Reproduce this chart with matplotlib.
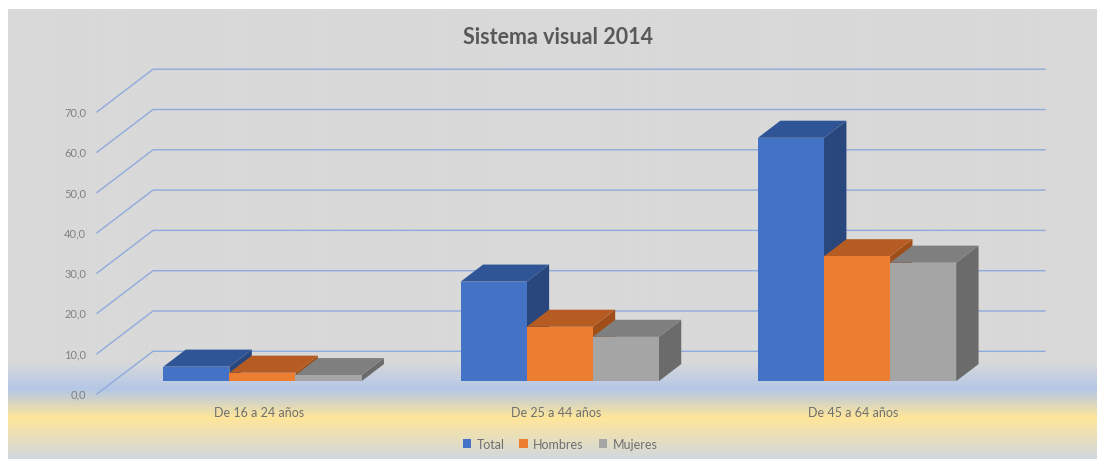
import numpy as np
import matplotlib.pyplot as plt
from matplotlib.patches import Polygon, Patch

plt.rcParams['font.family'] = ['Lato', 'DejaVu Sans']

categorias = ["De 16 a 24 años", "De 25 a 44 años", "De 45 a 64 años"]
series = ["Total", "Hombres", "Mujeres"]
total = [3.6, 24.7, 60.4]
hombres = [2.1, 13.5, 31.0]
mujeres = [1.5, 11.0, 29.4]
ticks = [0, 10, 20, 30, 40, 50, 60, 70]

colores = ["#4472c4", "#ed7d31", "#a5a5a5"]
arriba = ["#2f5597", "#b65c22", "#7f7f7f"]
lado = ["#29477d", "#a04e17", "#6b6b6b"]

W, H = 1097, 460
X0, Y0 = 97, 395      # esquina delantera del suelo (pixeles)
CAT = 297.3           # ancho de una categoria en pixeles
UNI = 4.03            # pixeles por unidad de valor
DX = 56 / CAT         # desplazamiento de profundidad
DY = 42.7 / UNI


def px(p):
    return (p - X0) / CAT


def py(p):
    return (Y0 - p) / UNI


def proy(x, v, d):
    return (x + d * DX, v + d * DY)


fig = plt.figure(figsize=(W / 100, H / 100), dpi=100)
ax = fig.add_axes([0, 0, 1, 1])
ax.axis('off')

# fondo con degradado
filas = np.arange(10, H)
stops = [10, 362, 390, 418, 460]
cols = np.array([[217, 217, 217], [217, 217, 217], [180, 199, 231],
                 [255, 230, 153], [208, 216, 224]]) / 255
img = np.stack([np.interp(filas, stops, cols[:, k]) for k in range(3)], axis=1)
img = np.repeat(img[:, None, :], 2, axis=1)
ax.imshow(img, extent=(px(8), px(W), py(H), py(10)), aspect='auto',
          zorder=0, interpolation='bilinear')

# lineas de division y etiquetas del eje
for t in ticks:
    xs, ys = zip(proy(0, t, 0), proy(0, t, 1), proy(3, t, 1))
    ax.plot(xs, ys, color='#8faadc', lw=1.0, zorder=1)
    ax.text(px(86), t, f"{t:.1f}".replace('.', ','), ha='right', va='center',
            fontsize=8, color='#808080')

# columnas 3d
datos = [total, hombres, mujeres]
ancho = 2 / 9
d0, d1 = 0.3, 0.7
z = 2
for i in range(len(categorias)):
    for j, vals in enumerate(datos):
        x0 = i + 1 / 6 + j * ancho
        x1 = x0 + ancho
        v = vals[i]
        frente = [proy(x0, 0, d0), proy(x1, 0, d0), proy(x1, v, d0), proy(x0, v, d0)]
        tapa = [proy(x0, v, d0), proy(x1, v, d0), proy(x1, v, d1), proy(x0, v, d1)]
        costado = [proy(x1, 0, d0), proy(x1, 0, d1), proy(x1, v, d1), proy(x1, v, d0)]
        ax.add_patch(Polygon(costado, closed=True, fc=lado[j], ec='none', zorder=z))
        ax.add_patch(Polygon(tapa, closed=True, fc=arriba[j], ec='none', zorder=z))
        ax.add_patch(Polygon(frente, closed=True, fc=colores[j], ec='none', zorder=z))
        z += 1
    cx, _ = proy(i + 0.5, 0, d0)
    ax.text(cx - 0.012, py(413), categorias[i], ha='center', va='center',
            fontsize=9, color='#6f6f6f')

ax.set_xlim(px(0), px(W))
ax.set_ylim(py(H), py(0))

fig.text(558 / W, 1 - 38 / H, "Sistema visual 2014", ha='center', va='center',
         fontsize=15.5, fontweight='bold', color='#595959')

handles = [Patch(fc=c, ec='none') for c in colores]
fig.legend(handles, series, loc='center', bbox_to_anchor=(560 / W, 1 - 445 / H),
           ncol=3, frameon=False, fontsize=9, labelcolor='#6f6f6f',
           handlelength=0.7, handleheight=0.7, handletextpad=0.4, columnspacing=1.2)

fig.savefig("out.png", dpi=100, facecolor='white')
